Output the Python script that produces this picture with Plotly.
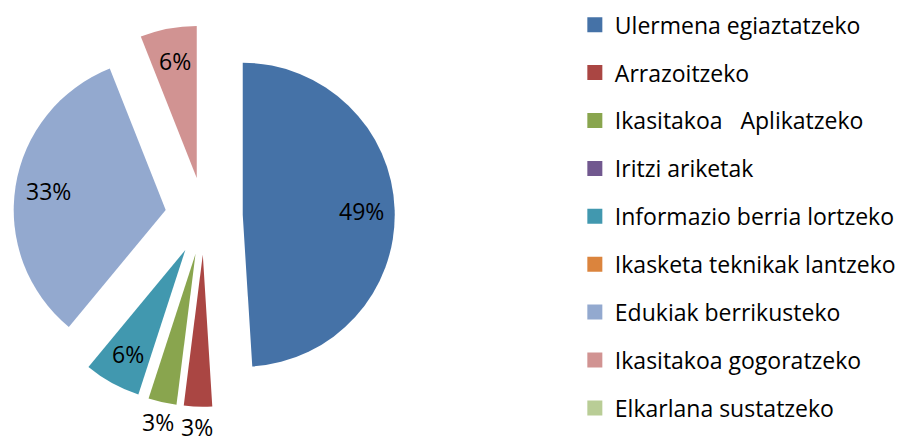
import math
import plotly.graph_objects as go

categories = ["Ulermena egiaztatzeko", "Arrazoitzeko", "Ikasitakoa   Aplikatzeko",
              "Iritzi ariketak", "Informazio berria lortzeko", "Ikasketa teknikak lantzeko",
              "Edukiak berrikusteko", "Ikasitakoa gogoratzeko", "Elkarlana sustatzeko"]
percent_values = [49, 3, 3, 0, 6, 0, 33, 6, 0]
colors = ["#4572A7", "#AA4643", "#89A54E", "#71588F", "#4198AF",
          "#DB843D", "#93A9CF", "#D19392", "#B9CD96"]

W, H = 901, 445
FONT = "Open Sans"
PULL = 0.255
# pie placement (pixels) of the unexploded centre and radius
CX, CY, R = 204, 216, 152
half = R * (1 + PULL)
dom_x = [(CX - half) / W, (CX + half) / W]
dom_y = [1 - (CY + half) / H, 1 - (CY - half) / H]

fig = go.Figure()
fig.add_trace(go.Pie(
    labels=categories, values=percent_values, sort=False, direction="clockwise",
    rotation=0, pull=PULL, textinfo="none",
    marker=dict(colors=colors, line=dict(width=0)),
    domain=dict(x=dom_x, y=dom_y),
    showlegend=False, automargin=False,
))
for name, col in zip(categories, colors):
    fig.add_trace(go.Scatter(
        x=[None], y=[None], mode="markers", name=name, legendgroup=name,
        marker=dict(symbol="square", size=15, color=col),
    ))

# data labels placed along each slice's mid angle
total = sum(percent_values)
cum = 0
annotations = []
for v in percent_values:
    if v > 0:
        mid = (cum + v / 2) / total * 2 * math.pi
        dx, dy = math.sin(mid), -math.cos(mid)
        inside = v > 4
        dist = R * PULL + (0.78 * R if inside else R + 20)
        px, py = CX + dist * dx, CY + dist * dy
        annotations.append(dict(
            x=px / W, y=1 - py / H, xref="paper", yref="paper",
            text=f"{v}%", showarrow=False, xanchor="center", yanchor="middle",
            font=dict(family=FONT, size=23, color="black"), borderpad=0,
        ))
    cum += v

fig.update_layout(
    width=W, height=H, margin=dict(l=0, r=0, t=0, b=0),
    paper_bgcolor="white", plot_bgcolor="white",
    xaxis=dict(visible=False), yaxis=dict(visible=False),
    annotations=annotations,
    legend=dict(x=0.638, y=0.9927, xanchor="left", yanchor="top",
                font=dict(family=FONT, size=23, color="black"),
                tracegroupgap=15, itemsizing="trace", bgcolor="rgba(0,0,0,0)"),
)
fig.write_html("out.html", config={"displayModeBar": False},
               post_script="document.body.style.margin='0';")
